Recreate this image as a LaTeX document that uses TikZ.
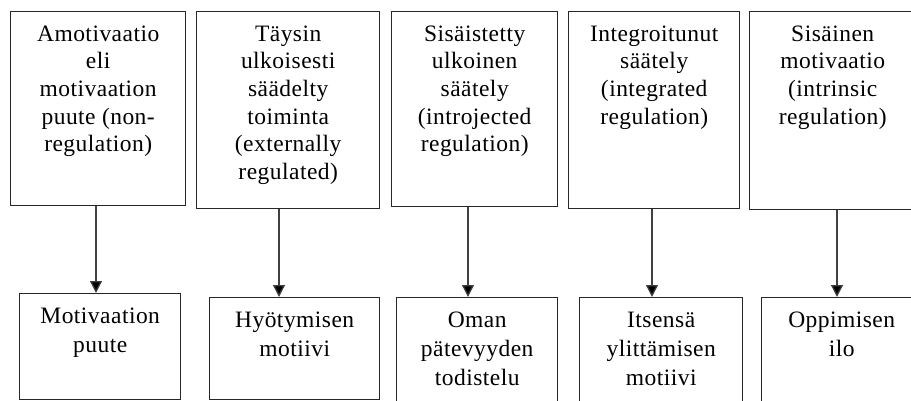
\documentclass[tikz,border=0pt]{standalone}
\usepackage{fontspec}
\setmainfont{Liberation Serif}[LetterSpace=2]
\usetikzlibrary{arrows.meta}

\begin{document}
\begin{tikzpicture}[x=1pt,y=-1pt,
  box/.style={draw=black!85,line width=1.4pt,inner sep=0pt,anchor=north west},
  toptext/.style={anchor=north,inner sep=0pt,align=center,
    font=\fontsize{23.5}{27.6}\selectfont},
  bottext/.style={anchor=north,inner sep=0pt,align=center,
    font=\fontsize{23.5}{29}\selectfont},
  arr/.style={draw=black!75,line width=1.3pt,
    -{Triangle[width=12pt,length=12pt,fill=black]}}]

\useasboundingbox (0,0) rectangle (911,401);
\clip (0,0) rectangle (911,401);

% upper row: the five regulation types
\node[box,minimum width=175pt,minimum height=194pt] (t1) at (10,11) {};
\node[box,minimum width=183pt,minimum height=197pt] (t2) at (196,11) {};
\node[box,minimum width=166pt,minimum height=195pt] (t3) at (391,11) {};
\node[box,minimum width=171pt,minimum height=197pt] (t4) at (568,11) {};
\node[box,minimum width=166pt,minimum height=198pt] (t5) at (749,11) {};

\node[toptext] (t1l) at ([yshift=-10.7pt]t1.north)
  {\strut Amotivaatio\\eli\\motivaation\\puute (non-\\regulation)};
\node[toptext] (t2l) at ([yshift=-10.7pt]t2.north)
  {\strut Täysin\\ulkoisesti\\säädelty\\toiminta\\(externally\\regulated)};
\node[toptext] (t3l) at ([yshift=-10.7pt]t3.north)
  {\strut Sisäistetty\\ulkoinen\\säätely\\(introjected\\regulation)};
\node[toptext] (t4l) at ([yshift=-10.7pt]t4.north)
  {\strut Integroitunut\\säätely\\(integrated\\regulation)};
\node[toptext] (t5l) at ([yshift=-10.7pt]t5.north)
  {\strut Sisäinen\\motivaatio\\(intrinsic\\regulation)};

% lower row: the corresponding motives
\node[box,minimum width=161pt,minimum height=106pt] (b1) at (19,293) {};
\node[box,minimum width=170pt,minimum height=102pt] (b2) at (209,297) {};
\node[box,minimum width=161pt,minimum height=120pt] (b3) at (396,297) {};
\node[box,minimum width=163pt,minimum height=120pt] (b4) at (579,297) {};
\node[box,minimum width=160pt,minimum height=104pt] (b5) at (761,297) {};

\node[bottext] (b1l) at ([yshift=-9.7pt]b1.north) {\strut Motivaation\\puute};
\node[bottext] (b2l) at ([yshift=-9.7pt]b2.north) {\strut Hyötymisen\\motiivi};
\node[bottext] (b3l) at ([yshift=-9.7pt]b3.north) {\strut Oman\\pätevyyden\\todistelu};
\node[bottext] (b4l) at ([yshift=-9.7pt]b4.north) {\strut Itsensä\\ylittämisen\\motiivi};
\node[bottext] (b5l) at ([yshift=-9.7pt]b5.north) {\strut Oppimisen\\ilo};

% arrow columns
\coordinate (c1) at (96,0);
\coordinate (c2) at (279,0);
\coordinate (c3) at (468,0);
\coordinate (c4) at (652,0);
\coordinate (c5) at (837,0);

\draw[arr] (t1.south -| c1) -- (b1.north -| c1);
\draw[arr] (t2.south -| c2) -- (b2.north -| c2);
\draw[arr] (t3.south -| c3) -- (b3.north -| c3);
\draw[arr] (t4.south -| c4) -- (b4.north -| c4);
\draw[arr] (t5.south -| c5) -- (b5.north -| c5);
\end{tikzpicture}
\end{document}
